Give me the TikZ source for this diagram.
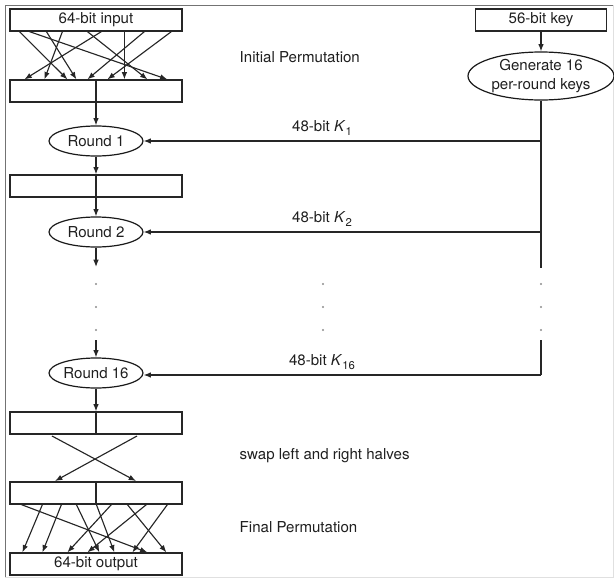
\documentclass[tikz,border=0pt]{standalone}
\usepackage{fontspec}
\setmainfont{TeX Gyre Heros}
\usetikzlibrary{arrows.meta,shapes.geometric}
\newcommand{\kk}[1]{\textit{K}\raisebox{-0.45ex}{\fontsize{8.5}{9}\selectfont #1}}
\begin{document}
\begin{tikzpicture}[x=0.75pt,y=-0.75pt,
  font=\fontsize{11.3}{13}\selectfont,
  every node/.style={text=black!88},
  bx/.style={draw=black!85, line width=0.9pt, minimum width=129pt, minimum height=16.5pt, inner sep=0pt},
  rnd/.style={draw=black!90, ellipse, line width=0.9pt, minimum width=70.5pt, minimum height=22.5pt, inner sep=0pt},
  gen/.style={draw=black!90, ellipse, line width=0.9pt, minimum width=109.5pt, minimum height=36pt, inner sep=0pt, align=center, font=\fontsize{11.3}{14}\selectfont},
  ln/.style={draw=black!85, line width=0.85pt},
  arr/.style={ln, -{Latex[length=5.5pt,width=4.2pt]}},
  dotc/.style={fill=black!45, draw=none, circle, minimum size=1.6pt, inner sep=0pt}
]
\useasboundingbox (0,0) rectangle (614,578);
% frame
\draw[black!55, line width=0.7pt] (5,578) -- (5,5) -- (614,5);
\draw[black!12, line width=0.7pt] (5,577) -- (613,577) -- (613,5);

% left column
\node[bx] (in) at (96,20) {64-bit input};
\node[bx] (ip) at (96,91) {};
\node[rnd] (r1) at (96,141) {Round 1};
\node[bx] (b1) at (96,186) {};
\node[rnd] (r2) at (96,232) {Round 2};
\coordinate (r2out) at (96,267);
\coordinate (r16in) at (96,340);
\node[rnd] (r16) at (96,373) {Round 16};
\node[bx] (b3) at (96,423) {};
\node[bx] (b4) at (96,493) {};
\node[bx] (out) at (96,564) {64-bit output};

% centre dividers
\foreach \n in {ip,b1,b3,b4} \draw[ln] (\n.north) -- (\n.south);

% initial permutation
\foreach \a/\b in {20/68,30/168,47/77,63/45,88/148,102/25,125/125,145/88,172/108}
  \draw[arr] ([xshift=(\a-10)*0.75pt]in.south west) -- ([xshift=(\b-10)*0.75pt]ip.north west);

% vertical flow
\draw[arr] (ip.south) -- (r1);
\draw[arr] (r1) -- (b1.north);
\draw[arr] (b1.south) -- (r2);
\draw[arr] (r2) -- (r2out);
\draw[arr] (r16in) -- (r16);
\draw[arr] (r16) -- (b3.north);

% swap
\coordinate (sa) at (52,436);
\coordinate (sb) at (137,436);
\coordinate (sc) at (55,481);
\coordinate (sd) at (136,481);
\draw[arr] (sa) -- (sd);
\draw[arr] (sb) -- (sc);

% final permutation
\foreach \a/\b in {22/148,43/23,62/43,77/100,97/115,112/68,128/167,147/88,168/133}
  \draw[arr] ([xshift=(\a-10)*0.75pt]b4.south west) -- ([xshift=(\b-10)*0.75pt]out.north west);

% key column
\node[bx, minimum width=98pt] (key) at (541,20) {56-bit key};
\node[gen] (gen) at (541,76) {Generate 16\\per-round keys};
\draw[arr] (key) -- (gen);
\coordinate (k1) at (541,141);
\coordinate (k2) at (541,232);
\coordinate (kend) at (541,268);
\coordinate (ks) at (541,340);
\coordinate (k16) at (541,375);
\draw[ln] (gen.south) -- (kend);
\draw[arr] (k1) -- (r1.east);
\draw[arr] (k2) -- (r2.east);
\draw[ln] (ks) -- (k16);
\draw[arr] (k16) -- (r16.east |- k16);

% key labels
\node (l1) at (322,128) {48-bit \kk{1}};
\node (l2) at (322,219) {48-bit \kk{2}};
\node (l16) at (322,362) {48-bit \kk{16}};

% dots
\foreach \x in {96,323,541}
  \foreach \y in {284,307,330}
    \node[dotc] at (\x,\y) {};

% descriptions
\node[anchor=west] (t1) at (235,57) {Initial Permutation};
\node[anchor=west] (t2) at (235,456) {swap left and right halves};
\node[anchor=west] (t3) at (235,527) {Final Permutation};
\end{tikzpicture}
\end{document}
